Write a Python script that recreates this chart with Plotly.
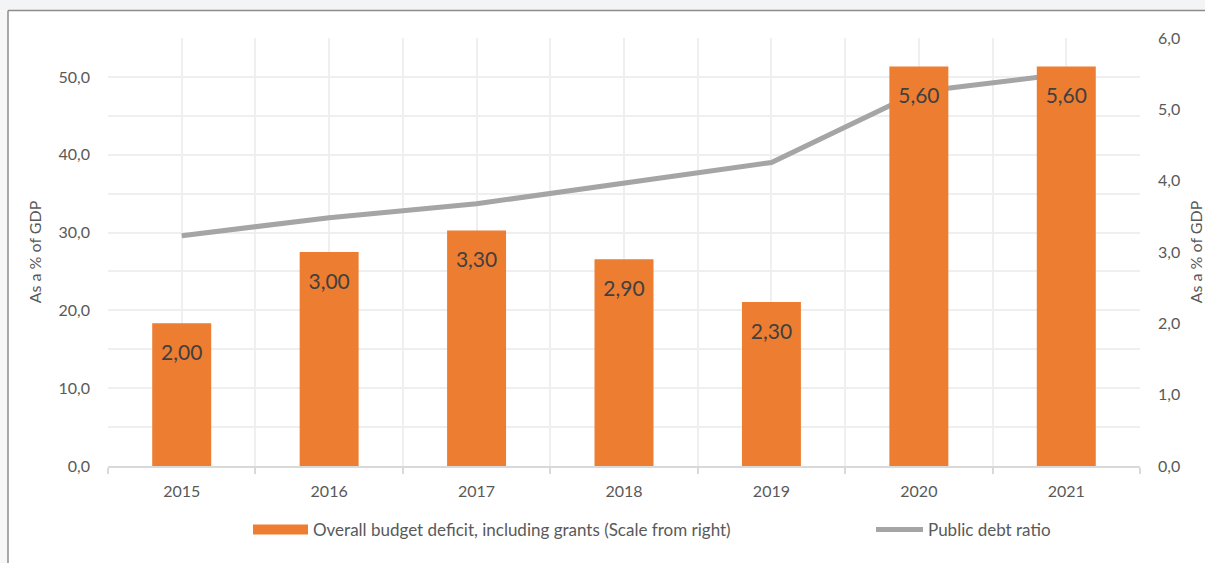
import plotly.graph_objects as go

years = [2015, 2016, 2017, 2018, 2019, 2020, 2021]
deficit = [2.00, 3.00, 3.30, 2.90, 2.30, 5.60, 5.60]
debt_ratio = [29.6, 31.9, 33.7, 36.4, 39.0, 48.1, 50.4]

bar_name = "Overall budget deficit, including grants (Scale from right)"
line_name = "Public debt ratio"
axis_title = "As a % of GDP"

W, H = 1205, 563
L, R, T, B = 108, 65, 38, 97
pw, ph = W - L - R, H - T - B

def px_x(px):
    return (px - L) / pw

def px_y(py):
    return (H - B - py) / ph

FONT = "Lato"
TXT = "#595959"
GRID = "#efefef"
ORANGE = "#ED7D31"
GREY = "#A5A5A5"

fig = go.Figure()
fig.add_trace(go.Bar(
    x=years, y=deficit, name=bar_name, yaxis="y2",
    marker=dict(color=ORANGE, line=dict(width=0)),
    width=0.4, showlegend=False,
))
fig.add_trace(go.Scatter(
    x=years, y=deficit, yaxis="y2", mode="markers+text",
    text=[f"{v:.2f}".replace(".", ",") for v in deficit],
    textposition="bottom center",
    textfont=dict(family=FONT, size=21, color="#404040"),
    marker=dict(size=32, color="rgba(0,0,0,0)"),
    showlegend=False, hoverinfo="skip",
))
fig.add_trace(go.Scatter(
    x=years, y=debt_ratio, name=line_name, mode="lines",
    line=dict(color=GREY, width=5), legend="legend2",
))
# legend entry for the bar series drawn as a wide swatch
fig.add_trace(go.Scatter(
    x=[None], y=[None], name=bar_name, mode="lines", yaxis="y2",
    line=dict(color=ORANGE, width=13), legend="legend",
))

fig.update_layout(
    width=W, height=H,
    margin=dict(l=L, r=R, t=T, b=B, autoexpand=False),
    paper_bgcolor="white", plot_bgcolor="white",
    separators=", ",
    font=dict(family=FONT, color=TXT, size=15),
    showlegend=True,
    legend=dict(
        orientation="h", x=px_x(248), xanchor="left", y=px_y(530), yanchor="middle",
        font=dict(family=FONT, size=17, color=TXT), itemwidth=55,
        bgcolor="rgba(0,0,0,0)",
    ),
    legend2=dict(
        orientation="h", x=px_x(871), xanchor="left", y=px_y(530), yanchor="middle",
        font=dict(family=FONT, size=17, color=TXT), itemwidth=47,
        bgcolor="rgba(0,0,0,0)",
    ),
    xaxis=dict(
        range=[2014.5, 2021.5], tickmode="array", tickvals=years,
        ticktext=[str(y) for y in years], ticks="", automargin=False,
        showgrid=True, gridcolor=GRID, gridwidth=1.5,
        showline=True, linecolor="#d9d9d9", linewidth=1.5,
        tickfont=dict(family=FONT, size=16, color=TXT), ticklabelstandoff=10,
        minor=dict(tick0=2014.5, dtick=1, ticks="outside", ticklen=6,
                   tickcolor="#d9d9d9", tickwidth=1.5,
                   showgrid=True, gridcolor=GRID, gridwidth=1.5),
        zeroline=False, fixedrange=True,
    ),
    yaxis=dict(
        range=[0, 55], dtick=10, tickformat=".1f", automargin=False,
        showgrid=True, gridcolor=GRID, gridwidth=1.5,
        minor=dict(dtick=5, showgrid=True, gridcolor=GRID, gridwidth=1.5),
        zeroline=False, showline=False, ticks="", ticklabelstandoff=17,
        tickfont=dict(family=FONT, size=16, color=TXT),
        title=dict(text=axis_title, font=dict(family=FONT, size=16, color=TXT), standoff=12),
    ),
    yaxis2=dict(
        range=[0, 6], dtick=1, tickformat=".1f", overlaying="y", side="right",
        automargin=False,
        showgrid=False, zeroline=False, showline=False, ticks="", ticklabelstandoff=17,
        tickfont=dict(family=FONT, size=16, color=TXT),
        title=dict(text=axis_title, font=dict(family=FONT, size=16, color=TXT), standoff=26),
    ),
    bargap=0.6,
)

# page background strips and frame border
fig.add_shape(type="rect", xref="paper", yref="paper",
              x0=px_x(0), x1=px_x(W), y0=px_y(10.5), y1=px_y(0),
              fillcolor="#f3f4f6", line=dict(width=0), layer="below")
fig.add_shape(type="rect", xref="paper", yref="paper",
              x0=px_x(0), x1=px_x(8), y0=px_y(H), y1=px_y(10.5),
              fillcolor="#f7f7f7", line=dict(width=0), layer="below")
fig.add_shape(type="line", xref="paper", yref="paper",
              x0=px_x(8), x1=px_x(W), y0=px_y(10.5), y1=px_y(10.5),
              line=dict(color="#8c8c8c", width=1.5))
fig.add_shape(type="line", xref="paper", yref="paper",
              x0=px_x(8), x1=px_x(8), y0=px_y(10.5), y1=px_y(H),
              line=dict(color="#8c8c8c", width=1.5))

fig.write_html("out.html", config={"displayModeBar": False},
               post_script="document.body.style.margin='0';")
